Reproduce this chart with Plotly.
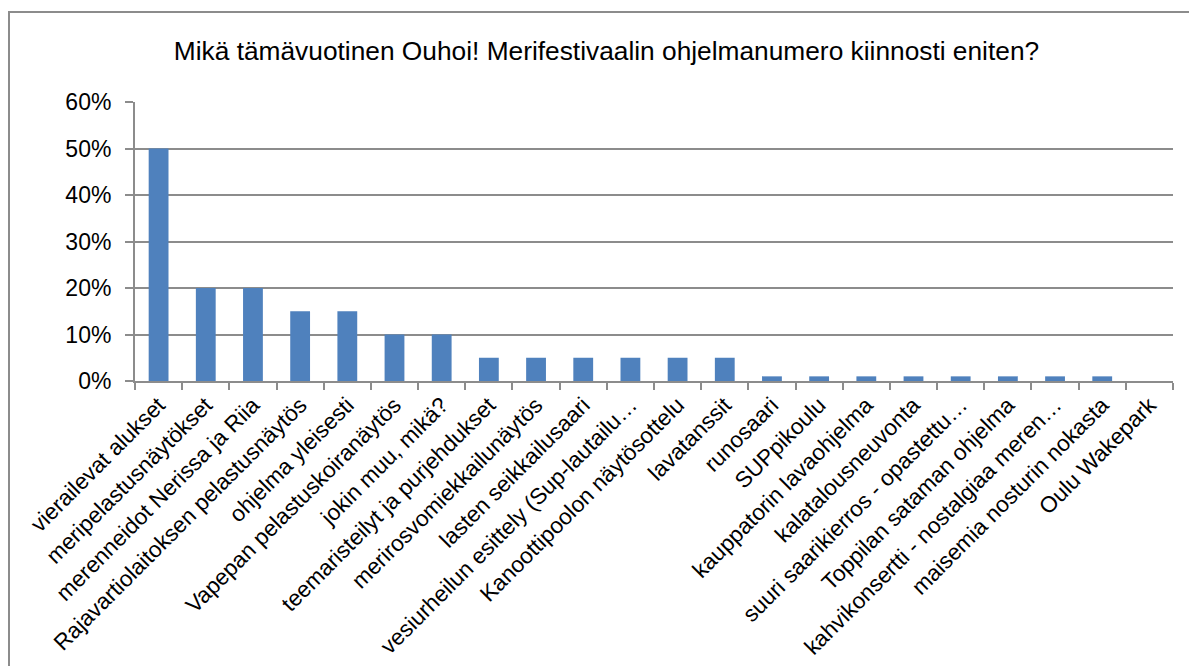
import plotly.graph_objects as go

categories = [
    "vierailevat alukset",
    "meripelastusnäytökset",
    "merenneidot Nerissa ja Riia",
    "Rajavartiolaitoksen pelastusnäytös",
    "ohjelma yleisesti",
    "Vapepan pelastuskoiranäytös",
    "jokin muu, mikä?",
    "teemaristeilyt ja purjehdukset",
    "merirosvomiekkailunäytös",
    "lasten seikkailusaari",
    "vesiurheilun esittely (Sup-lautailu…",
    "Kanoottipoolon näytösottelu",
    "lavatanssit",
    "runosaari",
    "SUPpikoulu",
    "kauppatorin lavaohjelma",
    "kalatalousneuvonta",
    "suuri saarikierros - opastettu…",
    "Toppilan sataman ohjelma",
    "kahvikonsertti - nostalgiaa meren…",
    "maisemia nosturin nokasta",
    "Oulu Wakepark",
]
values = [50, 20, 20, 15, 15, 10, 10, 5, 5, 5, 5, 5, 5, 1, 1, 1, 1, 1, 1, 1, 1, 0]
y_ticks = [0, 10, 20, 30, 40, 50, 60]
title_text = "Mikä tämävuotinen Ouhoi! Merifestivaalin ohjelmanumero kiinnosti eniten?"

FONT = "Liberation Sans Narrow, Arial Narrow, Liberation Sans, Arial, sans-serif"
GRID = "#8c8c8c"

L, R, T, B = 127, 32, 94, 293
W, H = 1197, 666
PW, PH = W - L - R, H - T - B

fig = go.Figure(go.Bar(x=categories, y=values, marker_color="#4F81BD", marker_line_width=0))

fig.update_layout(
    width=W, height=H,
    paper_bgcolor="white", plot_bgcolor="white",
    margin=dict(l=L, r=R, t=T, b=B, autoexpand=False),
    bargap=0.58,
    showlegend=False,
    title=dict(text=title_text, x=0.5, xanchor="center", y=1 - 43 / H, yanchor="middle",
               font=dict(family=FONT, size=26.3, color="black")),
    font=dict(family=FONT, color="black"),
)
fig.update_xaxes(
    type="category", tickangle=-45, tickfont=dict(family=FONT, size=22.5, color="black"),
    showline=True, linecolor=GRID, linewidth=2,
    ticks="outside", tickson="boundaries", ticklen=7, tickcolor=GRID, tickwidth=2,
    showgrid=False, automargin=False,
)
fig.update_yaxes(
    range=[0, 60], tickvals=y_ticks, ticktext=[f"{v}%" for v in y_ticks],
    tickfont=dict(family=FONT, size=23, color="black"),
    showline=True, linecolor=GRID, linewidth=2,
    ticks="outside", ticklen=8, tickcolor=GRID, tickwidth=2, ticklabelstandoff=9,
    showgrid=True, gridcolor=GRID, gridwidth=2, zeroline=False, automargin=False,
)
fig.add_shape(type="rect", xref="paper", yref="paper",
              x0=-(L - 1) / PW, x1=1.2, y0=-1.5, y1=1 + (T - 4) / PH,
              line=dict(color=GRID, width=2), fillcolor="rgba(0,0,0,0)", layer="below")

fig.write_html("out.html")
